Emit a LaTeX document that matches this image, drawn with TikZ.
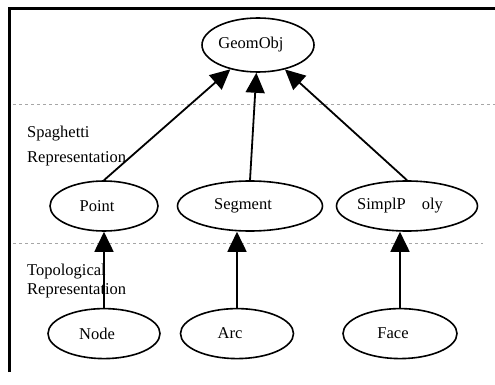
\documentclass[tikz,border=0pt]{standalone}
\usepackage{fontspec}
\setmainfont{Liberation Serif}
\usepackage{tikz}
\usetikzlibrary{shapes.geometric, arrows.meta, positioning}

\begin{document}
\begin{tikzpicture}[x=1pt, y=-1pt, >={Triangle[length=20pt, width=19pt]}]
        % Styles
        \tikzset{
            classblock/.style={draw, ellipse, line width=1.6pt, inner sep=0pt, minimum height=50pt, font=\fontsize{16.5}{19}\selectfont, execute at end node={\hspace{14pt}}},
            layerlabel/.style={anchor=north west, inner sep=0pt, align=left},
            layerline/.style={gray!70, dashed, dash pattern=on 3pt off 3pt, line width=0.8pt},
            isa/.style={->, line width=1.8pt}
        }
        \useasboundingbox (0,0) rectangle (495,385);

        % Frame
        \draw [line width=3pt] (9,372) -- (9,9) -- (495,9);

        % Layer separators
        \draw [layerline] (13,104) -- (495,104);
        \draw [layerline] (13,243) -- (483,243);

        % Root
        \node [classblock, minimum width=112pt, minimum height=54pt] (geom) at (258,45) {GeomObj};

        % Spaghetti layer
        \node [classblock, minimum width=108pt] (pnt) at (104,206) {Point};
        \node [classblock, minimum width=145pt] (seg) at (250,206) {Segment};
        \node [classblock, minimum width=131pt] (sp) at (407,206) {SimplP\hspace{16pt}oly};

        % Topological layer
        \node [classblock, minimum width=112pt, below=76pt of pnt] (nd) {Node};
        \node [classblock, minimum width=113pt, below=76pt of seg, xshift=-13pt] (arc) {Arc};
        \node [classblock, minimum width=114pt, below=76pt of sp, xshift=-7pt] (face) {Face};

        % Labels
        \node [layerlabel, font=\fontsize{16.5}{25}\selectfont] (spag) at (27,126) {Spaghetti\\Representation};
        \node [layerlabel, font=\fontsize{16.5}{19}\selectfont] (topo) at (27,264) {Topological\\Representation};

        % Arrows
        \draw [isa] (pnt.north) -- (geom);
        \draw [isa] (seg.north) -- (geom);
        \draw [isa] (sp.north) -- (geom);

        \draw [isa] (nd) -- (pnt);
        \draw [isa] (arc) -- (arc |- seg.south);
        \draw [isa] (face) -- (face |- sp.south);
    \end{tikzpicture}
\end{document}
